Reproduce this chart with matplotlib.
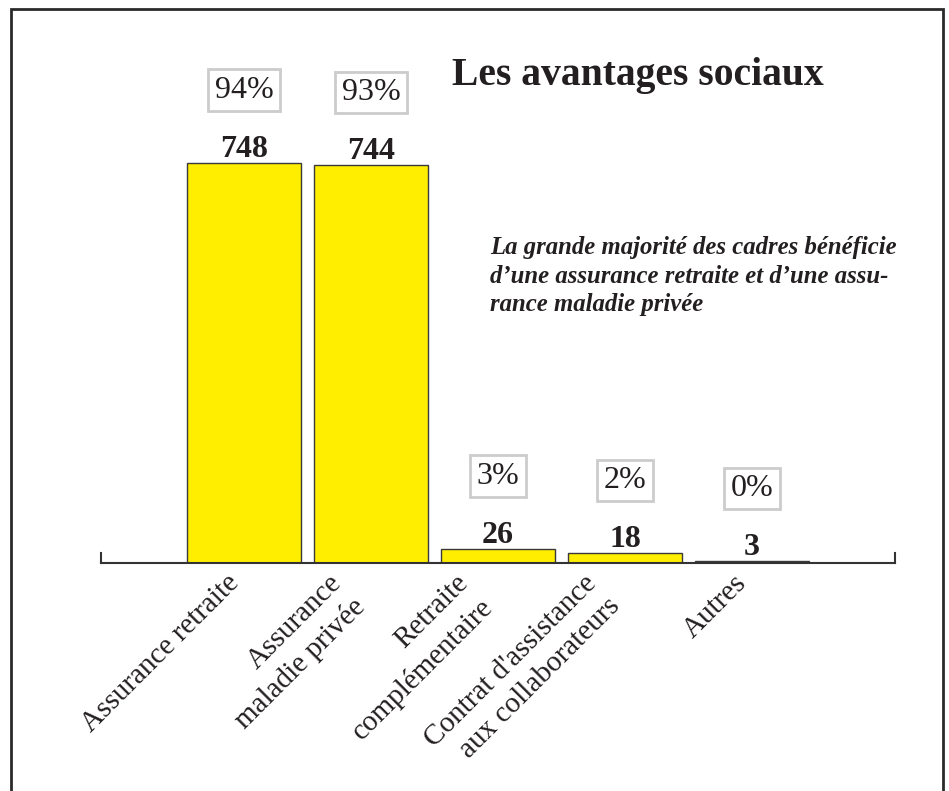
"""Les avantages sociaux - diagramme en barres."""

import matplotlib

matplotlib.use("Agg")
import matplotlib.pyplot as plt
from matplotlib.patches import Rectangle

plt.rcParams["font.family"] = ["Liberation Serif", "DejaVu Serif"]

categories = [
    "Assurance retraite",
    "Assurance\nmaladie privée",
    "Retraite\ncomplémentaire",
    "Contrat d'assistance\naux collaborateurs",
    "Autres",
]
counts = [748, 744, 26, 18, 3]
percents = ["94%", "93%", "3%", "2%", "0%"]

title = "Les avantages sociaux"
subtitle = ("La grande majorité des cadres bénéficie\n"
            "d\u2019une assurance retraite et d\u2019une assu-\n"
            "rance maladie privée")

W, H = 949, 791
TEXT = "#231f20"

fig = plt.figure(figsize=(W / 100, H / 100), dpi=100)
fig.patch.set_facecolor("white")

# cadre autour de la figure (ouvert en bas)
fig.patches.append(Rectangle((11 / W, -0.02), (943 - 11) / W, 1.02 - 9 / H,
                             transform=fig.transFigure, fill=False,
                             edgecolor="#2a2a2a", linewidth=2))

ax = fig.add_axes([101 / W, (H - 563) / H, 794 / W, (563 - 40) / H])
x = list(range(len(categories)))
ax.bar(x, counts, width=0.9, color="#ffee00", edgecolor="#3a3a3a", linewidth=1)
ax.set_xlim(-1.125, len(categories) - 1 + 1.125)
ax.set_ylim(0, 978.7)

ax.spines["top"].set_visible(False)
for s in ["bottom", "left", "right"]:
    ax.spines[s].set_color("#333333")
    ax.spines[s].set_linewidth(1.5)
for s in ["left", "right"]:
    ax.spines[s].set_bounds(0, 19)

ax.set_yticks([])
ax.set_xticks(x)
ax.set_xticklabels(categories, rotation=45, ha="right", va="top",
                   fontsize=21, color=TEXT, linespacing=1.35)
ax.tick_params(axis="x", length=0, pad=5)

for xi, c, p in zip(x, counts, percents):
    ax.annotate(str(c), (xi, c), xytext=(0, 4.5), textcoords="offset points",
                ha="center", va="baseline", fontsize=23, fontweight="bold", color=TEXT)
    ax.annotate(p, (xi, c), xytext=(0, 52.5), textcoords="offset points",
                ha="center", va="center", fontsize=23, color=TEXT,
                bbox=dict(boxstyle="square,pad=0.2", facecolor="white",
                          edgecolor="#cccccc", linewidth=2))

fig.text(452 / W, 1 - 85 / H, title, fontsize=28.5, fontweight="bold",
         color=TEXT, ha="left", va="baseline")
# va="baseline" sur un texte multiligne = ligne du bas
fig.text(490 / W, 1 - 311 / H, subtitle, fontsize=17.8, fontweight="bold",
         fontstyle="italic", color=TEXT, ha="left", va="baseline", linespacing=1.3)

fig.savefig("out.png", dpi=100)
